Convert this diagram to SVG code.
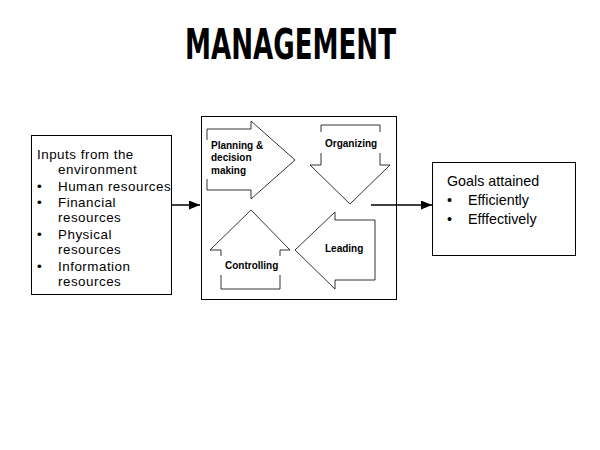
<svg xmlns="http://www.w3.org/2000/svg" width="600" height="450" viewBox="0 0 600 450">
<style>
.box{fill:#fff;stroke:#000;stroke-width:1}
.shape{fill:#fff;stroke:#000;stroke-width:0.8}
.mask{fill:#fff;stroke:none}
.t{font-family:"Liberation Sans",Arial,sans-serif;font-size:14.3px;fill:#000}
.ti{font-family:"Liberation Sans",Arial,sans-serif;font-size:13.4px;letter-spacing:0.5px;fill:#000}
.lbl{font-family:"Liberation Sans",Arial,sans-serif;font-size:10px;font-weight:bold;fill:#000}
.title{font-family:Impact,"Liberation Sans Narrow","DejaVu Sans Condensed","Liberation Sans",sans-serif;font-weight:bold;font-size:42px;fill:#000}
.conn{stroke:#000;stroke-width:1.5;fill:none}
</style>
<defs>
<marker id="ah" markerWidth="11" markerHeight="9" refX="11" refY="4.5" orient="auto" markerUnits="userSpaceOnUse">
<path d="M0,0 L11,4.5 L0,9 Z" fill="#000"/>
</marker>
</defs>
<rect width="600" height="450" fill="#fff"/>
<text class="title" x="185" y="59" textLength="211" lengthAdjust="spacingAndGlyphs">MANAGEMENT</text>

<g id="inputs">
<rect class="box" x="31.5" y="135.5" width="140" height="159"/>
<text class="ti"><tspan x="37" y="159">Inputs from the</tspan><tspan x="58" y="174">environment</tspan></text>
<text class="ti" x="37" y="191">•</text><text class="ti" x="58" y="191">Human resources</text>
<text class="ti" x="37" y="207">•</text><text class="ti"><tspan x="58" y="207">Financial</tspan><tspan x="58" y="222">resources</tspan></text>
<text class="ti" x="37" y="239">•</text><text class="ti"><tspan x="58" y="239">Physical</tspan><tspan x="58" y="254">resources</tspan></text>
<text class="ti" x="37" y="271">•</text><text class="ti"><tspan x="58" y="271">Information</tspan><tspan x="58" y="286">resources</tspan></text>
</g>

<g id="management">
<rect class="box" x="201.5" y="116.5" width="195" height="183"/>
<g id="planning">
<polygon class="shape" points="207,129 251,129 251,121 295,160 251,199 251,190 207,190"/>
<rect class="mask" x="205" y="140" width="60" height="39"/>
<text class="lbl"><tspan x="211" y="149">Planning &amp;</tspan><tspan x="211" y="161">decision</tspan><tspan x="211" y="174">making</tspan></text>
</g>
<g id="organizing">
<polygon class="shape" points="321,125 380,125 380,165 390,165 350,204 310,165 321,165"/>
<rect class="mask" x="318" y="132" width="65" height="21"/>
<text class="lbl" x="325" y="147">Organizing</text>
</g>
<g id="leading">
<polygon class="shape" points="375,220 335,220 335,212 295,250 335,289 335,280 375,280"/>
<text class="lbl" x="325" y="252">Leading</text>
</g>
<g id="controlling">
<polygon class="shape" points="251,210 290,250 280,250 280,289 221,289 221,250 210,250"/>
<rect class="mask" x="218" y="256" width="65" height="19"/>
<text class="lbl" x="225" y="269">Controlling</text>
</g>
</g>

<g id="goals">
<rect class="box" x="432.5" y="162.5" width="143" height="93"/>
<text class="t" x="447" y="186">Goals attained</text>
<text class="t" x="447" y="205">•</text><text class="t" x="468" y="205">Efficiently</text>
<text class="t" x="447" y="224">•</text><text class="t" x="468" y="224">Efffectively</text>
</g>

<g id="connectors">
<line class="conn" x1="171" y1="205" x2="200" y2="205" marker-end="url(#ah)"/>
<line class="conn" x1="371" y1="205" x2="432" y2="205" marker-end="url(#ah)"/>
</g>
</svg>
